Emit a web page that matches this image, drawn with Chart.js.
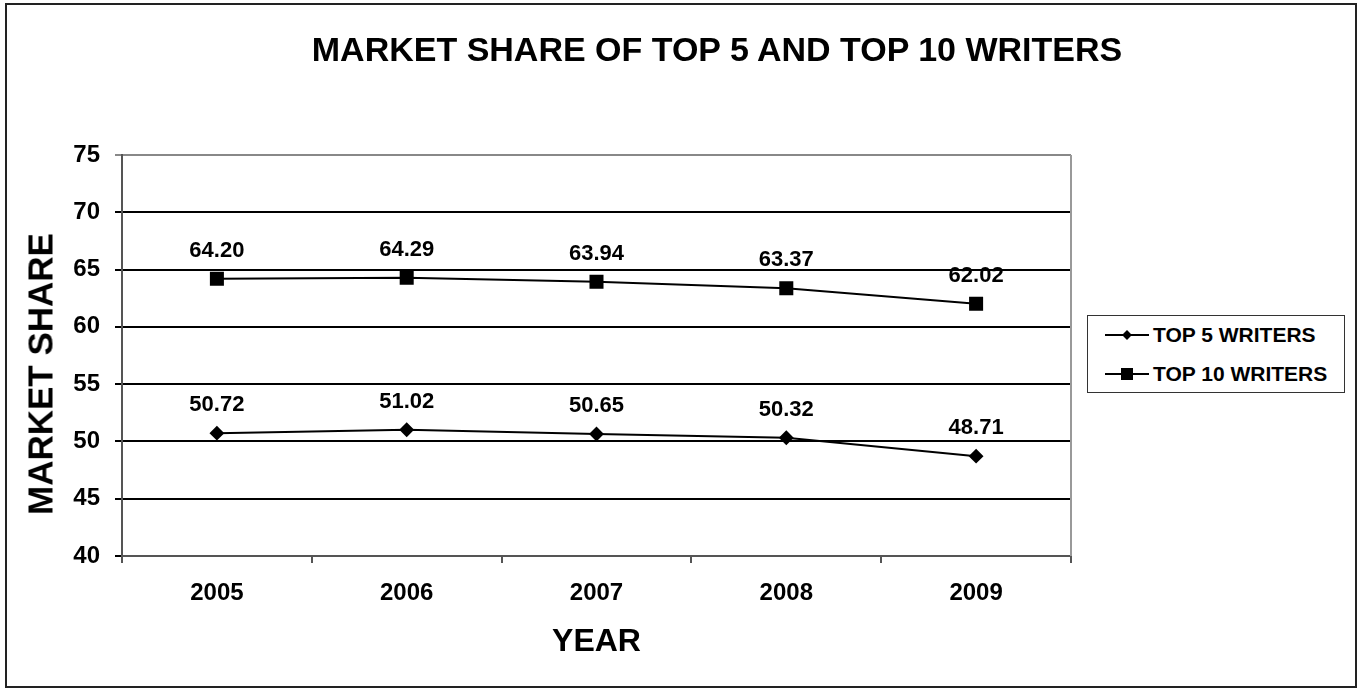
<!DOCTYPE html>
<html>
<head>
<meta charset="utf-8">
<script src="https://cdn.jsdelivr.net/npm/chart.js@4/dist/chart.umd.min.js"></script>
<style>
  body { margin: 0; background: #fff; }
  #wrap { position: relative; width: 1357px; height: 688px; font-family: "Liberation Sans", Arial, sans-serif; font-weight: bold; color: #000; }
  #chart { position: absolute; left: 0; top: 0; }
  #frame { position: absolute; left: 5px; top: 3px; width: 1348px; height: 681px; border: 2px solid #222; pointer-events: none; }
  #title { position: absolute; left: 717px; top: 32px; transform: translateX(-50%); font-size: 34px; line-height: 34px; white-space: nowrap; }
  #ytitle { position: absolute; left: 40px; top: 374px; transform: translate(-50%, -50%) rotate(-90deg); font-size: 35px; line-height: 35px; white-space: nowrap; }
  #legend { position: absolute; left: 1087px; top: 315px; width: 256px; height: 76px; border: 1px solid #333; background: #fff; }
  .row { position: absolute; left: 17px; height: 24px; display: flex; align-items: center; font-size: 21px; white-space: nowrap; }
  .sample { position: relative; width: 44px; height: 2px; background: #000; margin-right: 4px; }
  .sample i { position: absolute; left: 50%; top: 50%; background: #000; }
  .sample i.diamond { width: 7px; height: 7px; transform: translate(-50%, -50%) rotate(45deg); }
  .sample i.square { width: 12px; height: 12px; transform: translate(-50%, -50%); }
</style>
</head>
<body>
<div id="wrap">
  <canvas id="chart" width="1357" height="688"></canvas>
  <div id="title">MARKET SHARE OF TOP 5 AND TOP 10 WRITERS</div>
  <div id="ytitle">MARKET SHARE</div>
  <div id="legend"></div>
  <div id="frame"></div>
</div>
<script>
const years = ["2005", "2006", "2007", "2008", "2009"];
const top5 = [50.72, 51.02, 50.65, 50.32, 48.71];
const top10 = [64.20, 64.29, 63.94, 63.37, 62.02];
const seriesNames = ["TOP 5 WRITERS", "TOP 10 WRITERS"];
const yTicks = [40, 45, 50, 55, 60, 65, 70, 75];

const font = "'Liberation Sans', Arial, sans-serif";

// value labels above each point
const valueLabels = {
  id: "valueLabels",
  afterDatasetsDraw(chart) {
    const ctx = chart.ctx;
    ctx.save();
    ctx.font = "bold 22px " + font;
    ctx.fillStyle = "#000";
    ctx.textAlign = "center";
    ctx.textBaseline = "middle";
    chart.data.datasets.forEach((ds, i) => {
      chart.getDatasetMeta(i).data.forEach((pt, j) => {
        ctx.fillText(ds.data[j].toFixed(2), pt.x, pt.y - 28);
      });
    });
    ctx.restore();
  },
  beforeDatasetsDraw(chart) {
    // right edge of the plot frame
    const { ctx, chartArea } = chart;
    ctx.save();
    ctx.strokeStyle = "#999";
    ctx.lineWidth = 2;
    ctx.beginPath();
    ctx.moveTo(chartArea.right, chartArea.top);
    ctx.lineTo(chartArea.right, chartArea.bottom);
    ctx.stroke();
    ctx.restore();
  }
};

const chart = new Chart(document.getElementById("chart"), {
  type: "line",
  data: {
    labels: years,
    datasets: [
      {
        label: seriesNames[0],
        data: top5,
        borderColor: "#000",
        backgroundColor: "#000",
        borderWidth: 2,
        pointStyle: "rectRot",
        pointRadius: 6,
        pointHoverRadius: 6,
        tension: 0
      },
      {
        label: seriesNames[1],
        data: top10,
        borderColor: "#000",
        backgroundColor: "#000",
        borderWidth: 2,
        pointStyle: "rect",
        pointRadius: 8.5,
        pointHoverRadius: 8.5,
        tension: 0
      }
    ]
  },
  options: {
    responsive: false,
    animation: false,
    layout: { padding: { top: 155, right: 286, left: 0, bottom: 0 } },
    plugins: {
      legend: { display: false },
      title: { display: false },
      tooltip: { enabled: false }
    },
    scales: {
      x: {
        offset: true,
        afterFit: s => { s.height = 132; },
        grid: { offset: true, drawOnChartArea: false, tickLength: 7, color: "#555", lineWidth: 2 },
        border: { color: "#555", width: 2 },
        ticks: { color: "#000", padding: 16, font: { family: font, size: 24, weight: "bold" } },
        title: {
          display: true,
          text: "YEAR",
          color: "#000",
          padding: { top: 0, bottom: 27 },
          font: { family: font, size: 32, weight: "bold" }
        }
      },
      y: {
        min: yTicks[0],
        max: yTicks[yTicks.length - 1],
        afterFit: s => { s.width = 122; },
        afterBuildTicks: s => { s.ticks = yTicks.map(v => ({ value: v })); },
        grid: {
          tickLength: 7,
          lineWidth: 2,
          color: c => (c.tick && c.tick.value === yTicks[yTicks.length - 1]) ? "#888" : "#000"
        },
        border: { color: "#555", width: 2 },
        ticks: { color: "#000", padding: 15, font: { family: font, size: 24, weight: "bold" } }
      }
    }
  },
  plugins: [valueLabels]
});

// legend built from the series names
const legend = document.getElementById("legend");
const markers = ["diamond", "square"];
const rowTops = [7, 46];
seriesNames.forEach((name, i) => {
  const row = document.createElement("div");
  row.className = "row";
  row.style.top = rowTops[i] + "px";
  row.innerHTML = '<span class="sample"><i class="' + markers[i] + '"></i></span>' + name;
  legend.appendChild(row);
});
</script>
</body>
</html>
